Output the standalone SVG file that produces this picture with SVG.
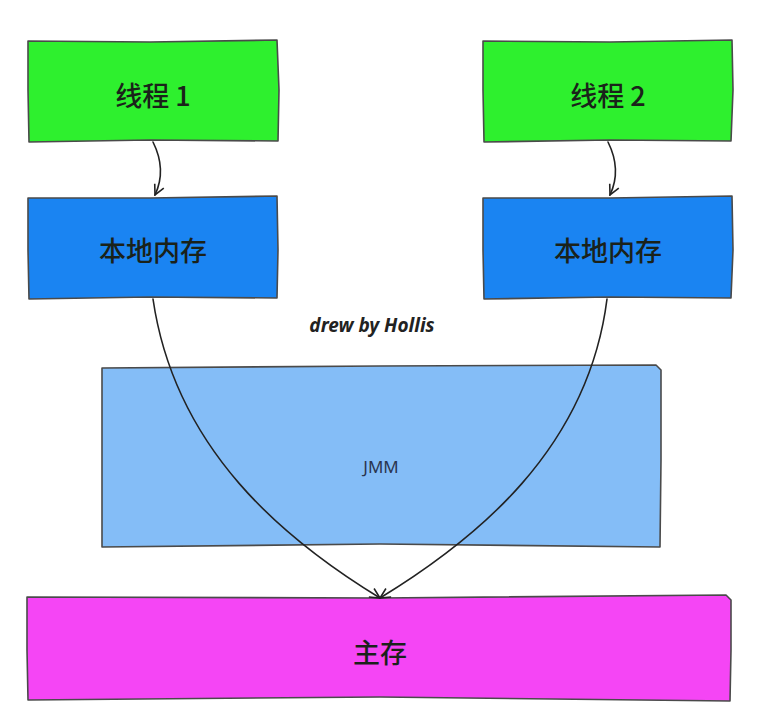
<svg xmlns="http://www.w3.org/2000/svg" width="782" height="728" viewBox="0 0 782 728">
<style>
.box{stroke:#4a4a4a;stroke-width:1.6;stroke-linejoin:round}
.thread{fill:#2ef02e}
.local{fill:#1a84f2}
.jmm{fill:#84bdf7}
.main{fill:#f545f5}
.lbl{font-family:"Noto Sans CJK SC","Noto Sans",sans-serif;font-size:27px;font-weight:500;fill:#1a221a;text-anchor:middle;dominant-baseline:central}
.small{font-family:"Noto Sans","DejaVu Sans",sans-serif;font-size:17px;fill:#2a3550;text-anchor:middle;dominant-baseline:central}
.sig{font-family:"Noto Sans","DejaVu Sans",sans-serif;font-size:19px;font-style:italic;font-weight:bold;fill:#222;text-anchor:middle;dominant-baseline:central}
.conn{fill:none;stroke:#222;stroke-width:1.6;stroke-linecap:round}
</style>
<defs>
<marker id="arr" viewBox="0 0 12 12" refX="11" refY="6" markerWidth="12" markerHeight="12" markerUnits="userSpaceOnUse" orient="auto">
<path d="M1,1 L11,6 L1,11" fill="none" stroke="#222" stroke-width="1.6"/>
</marker>
</defs>
<rect width="782" height="728" fill="#ffffff"/>
<g id="thread1">
<path class="box thread" d="M28,41 L150,42 L277,40 L279,90 L278,141 L150,140 L29,142 L28,90 Z"/>
<text class="lbl" x="153" y="94">线程 1</text>
</g>
<g id="thread2">
<path class="box thread" d="M483,41 L610,42 L732,40 L733,90 L731,141 L610,140 L484,142 L483,90 Z"/>
<text class="lbl" x="608" y="94">线程 2</text>
</g>
<g id="local1">
<path class="box local" d="M28,198 L150,198 L277,196 L278,250 L277,298 L150,297 L29,299 L28,250 Z"/>
<text class="lbl" x="153" y="249">本地内存</text>
</g>
<g id="local2">
<path class="box local" d="M483,198 L610,198 L732,196 L733,250 L731,298 L610,297 L484,299 L483,250 Z"/>
<text class="lbl" x="608" y="249">本地内存</text>
</g>
<g id="jmm">
<path class="box jmm" d="M102,368 L380,366 L656,365 L661,370 L661,460 L660,547 L380,544 L102,547 L102,460 Z"/>
<text class="small" x="381" y="466">JMM</text>
</g>
<g id="main">
<path class="box main" d="M27,597 L380,598 L726,595 L731,600 L731,650 L730,701 L380,697 L28,700 L27,650 Z"/>
<text class="lbl" x="380" y="651">主存</text>
</g>
<g id="signature">
<text class="sig" x="372" y="325">drew by Hollis</text>
</g>
<g id="connectors">
<path class="conn" d="M153,142 C162,160 163,178 155,195" marker-end="url(#arr)"/>
<path class="conn" d="M608,142 C617,160 618,178 610,195" marker-end="url(#arr)"/>
<path class="conn" d="M153,299 C175,450 285,540 380,598" marker-end="url(#arr)"/>
<path class="conn" d="M607,299 C588,450 475,540 380,598" marker-end="url(#arr)"/>
</g>
</svg>
